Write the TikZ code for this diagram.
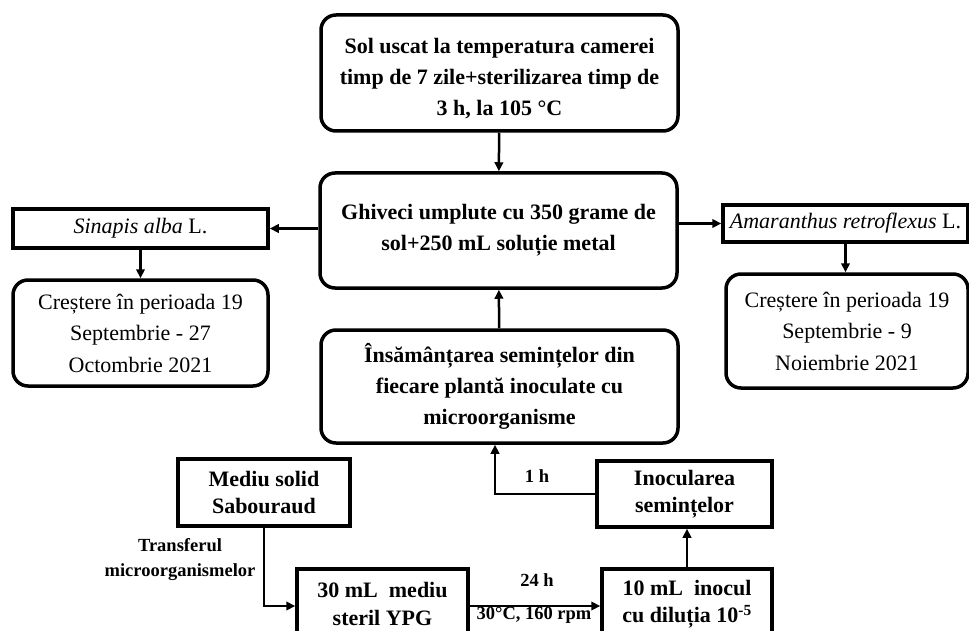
\documentclass[tikz,border=0pt]{standalone}
\usepackage{fontspec}
\setmainfont{Liberation Serif}
\usetikzlibrary{arrows.meta}
\newcommand\mainbf{\fontsize{22}{31}\selectfont\bfseries}
\newcommand\smallbf{\fontsize{22}{27.5}\selectfont\bfseries}
\newcommand\mainrm{\fontsize{22}{31.5}\selectfont}
\newcommand\lblfont{\fontsize{18.5}{25}\selectfont\bfseries}
\tikzset{
  rbox/.style={draw, line width=3.5pt, rounded corners=15pt, align=center, inner sep=0pt, font=\mainbf},
  sbox/.style={draw, line width=3.5pt, align=center, inner sep=0pt, font=\smallbf},
  arr/.style={line width=2.5pt, -{Triangle[length=9pt,width=8.5pt]}},
  lbl/.style={font=\lblfont, align=center, inner sep=0pt}
}
\begin{document}
\begin{tikzpicture}[x=1pt,y=-1pt]
\clip (0,0) rectangle (969,631);
\fill[white] (0,0) rectangle (969,631);
% central column
\node[rbox, minimum width=357pt, minimum height=116pt] (top) at (499.5,73)
  {\rule{0pt}{26pt}Sol uscat la temperatura camerei\\timp de 7 zile+sterilizarea timp de\\3 h, la 105 °C};
\node[rbox, minimum width=357pt, minimum height=115pt] (ghiveci) at (498.5,230.5)
  {Ghiveci umplute cu 350 grame de\\sol+250 mL soluție metal};
\node[rbox, minimum width=357pt, minimum height=113pt] (insam) at (499.5,386.5)
  {Însămânțarea semințelor din\\fiecare plantă inoculate cu\\microorganisme};
% left column
\node[sbox, font=\mainrm, minimum width=255pt, minimum height=39pt] (sinapis) at (140.5,228.5)
  {\textit{Sinapis alba} L.};
\node[rbox, font=\mainrm, minimum width=255pt, minimum height=106pt] (crestL) at (140.5,333)
  {Creștere în perioada 19\\Septembrie - 27\\Octombrie 2021};
% right column
\node[sbox, font=\mainrm, minimum width=245pt, minimum height=37pt] (amar) at (845.5,223.5)
  {\textit{Amaranthus retroflexus} L.};
\node[rbox, font=\mainrm, minimum width=242pt, minimum height=114pt] (crestR) at (847,331)
  {Creștere în perioada 19\\Septembrie - 9\\Noiembrie 2021};
% bottom
\node[sbox, minimum width=172pt, minimum height=67pt] (mediu) at (264,492.5)
  {Mediu solid\\Sabouraud};
\node[sbox, minimum width=175pt, minimum height=66pt] (inoc) at (684.5,494)
  {Inocularea\\semințelor};
\node[sbox, minimum width=171pt, minimum height=70pt] (ml30) at (382.5,604)
  {30 mL~ mediu\\steril YPG};
\node[sbox, minimum width=170pt, minimum height=70pt] (ml10) at (687,604)
  {10 mL~ inocul\\cu diluția 10\textsuperscript{-5}};
% labels
\node[lbl] (ltr) at (180,560) {Transferul\\microorganismelor};
\node[lbl] (l1h) at (537,476) {1 h};
\node[lbl] (l24) at (537,580) {24 h};
\node[lbl] (lrpm) at (534,615) {30°C, 160 rpm};
% connectors
\draw[arr] (top) -- (ghiveci);
\draw[arr] (insam) -- (ghiveci);
\draw[arr] (sinapis.east -| ghiveci.west) -- (sinapis.east);
\draw[arr] (amar.west -| ghiveci.east) -- (amar.west);
\draw[arr] (sinapis) -- (crestL);
\draw[arr] (amar.south) -- (amar.south |- crestR.north);
\draw[arr] (mediu.south) |- ([yshift=-2pt]ml30.west);
\draw[arr] ([yshift=-2pt]ml30.east) -- ([yshift=-2pt]ml10.west);
\draw[arr] (ml10.north) -- (ml10.north |- inoc.south);
\draw[arr] (inoc.west) -| ([xshift=-4.5pt]insam.south);
\end{tikzpicture}
\end{document}
